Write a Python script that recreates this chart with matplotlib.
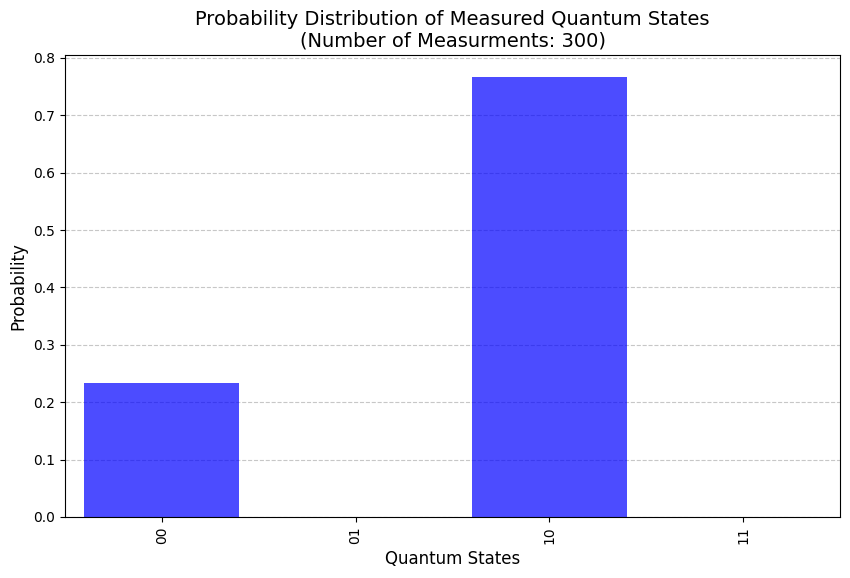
import matplotlib
matplotlib.use("Agg")
import matplotlib.pyplot as plt

states = ["00", "01", "10", "11"]
probs = [70/300, 0.0, 230/300, 0.0]

fig = plt.figure(figsize=(8.5, 5.78), dpi=100)
ax = fig.add_axes([65/850, 61/578, 775/850, 462/578])
ax.bar(range(len(states)), probs, width=0.8, color="blue", alpha=0.7, zorder=2)
ax.set_xlim(-0.5, 3.5)
ax.set_xticks(range(len(states)))
ax.set_xticklabels(states, rotation=90)
ax.set_title("Probability Distribution of Measured Quantum States\n(Number of Measurments: 300)", fontsize=14)
ax.set_xlabel("Quantum States", fontsize=12)
ax.set_ylabel("Probability", fontsize=12)
ax.grid(axis="y", linestyle="--", alpha=0.7, zorder=0)
fig.savefig("out.png", dpi=100)
